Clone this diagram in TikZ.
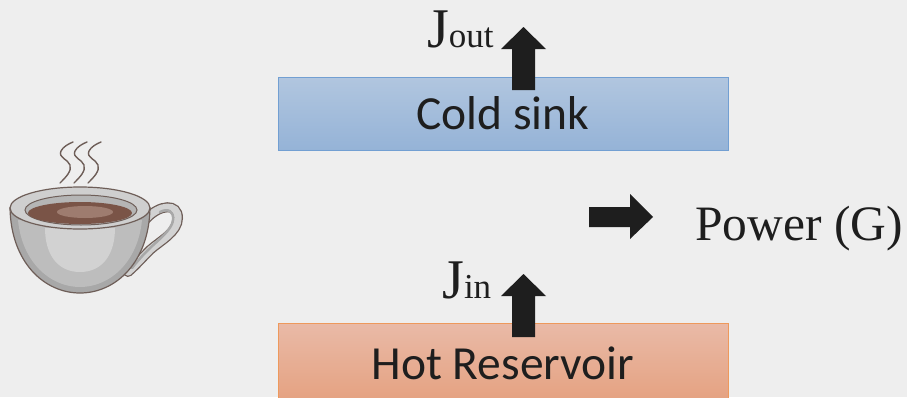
\documentclass[tikz,border=0pt]{standalone}
\usepackage{fontspec}
\setmainfont{Liberation Serif}
\newfontfamily\boxfont{Carlito}
\definecolor{bgcol}{HTML}{EEEEEE}
\definecolor{ink}{HTML}{1E1E1E}
\definecolor{coldtop}{HTML}{B1C6DF}
\definecolor{coldbot}{HTML}{95B3D7}
\definecolor{coldline}{HTML}{729FD2}
\definecolor{hottop}{HTML}{E9BAA7}
\definecolor{hotbot}{HTML}{E5A180}
\definecolor{hotline}{HTML}{EE995C}
\definecolor{cupline}{HTML}{6E5E58}
\definecolor{cupbody}{HTML}{BDBDBD}
\definecolor{cupedge}{HTML}{A8A8A8}
\definecolor{cuplight}{HTML}{D2D2D2}
\definecolor{cuprim}{HTML}{CFCFCF}
\definecolor{cupwall}{HTML}{B5B5B5}
\definecolor{coffee}{HTML}{7A5447}
\definecolor{coffeelight}{HTML}{9E7C6F}
\begin{document}
\begin{tikzpicture}[x=1pt,y=-1pt,
  reservoir/.style={draw, line width=0.8pt, minimum width=450pt, inner sep=0pt,
    font=\boxfont\fontsize{47.5}{47.5}\selectfont, text=ink},
  flux/.style={fill=ink},
  sublabel/.style={anchor=base west, inner sep=0pt, text=ink},
  steam/.style={draw=cupline, line width=1.4pt, line cap=round}]
\fill[bgcol] (0,0) rectangle (907,397);
\useasboundingbox (0,0) rectangle (907,397);

% reservoirs
\node[reservoir, draw=coldline, top color=coldtop, bottom color=coldbot,
  minimum height=73pt] (cold) at (503,113.5) {Cold sink};
\node[reservoir, draw=hotline, top color=hottop, bottom color=hotbot,
  minimum height=80pt] (hot) at (503,363) {Hot Reservoir};

% heat flux arrows
\coordinate (outtip) at (523.5,27);
\coordinate (intip) at (523.5,274);
\fill[flux] (outtip) -- ++(22.5,22) -- ++(-11,0) -- ++(0,41) -- ++(-23,0)
  -- ++(0,-41) -- ++(-11,0) -- cycle;
\fill[flux] (intip) -- ++(22.5,22) -- ++(-11,0) -- ++(0,41) -- ++(-23,0)
  -- ++(0,-41) -- ++(-11,0) -- cycle;
\coordinate (powtip) at (653,217);
\fill[flux] (powtip) -- ++(-23,-23) -- ++(0,13) -- ++(-41,0) -- ++(0,20)
  -- ++(41,0) -- ++(0,12) -- cycle;

% labels
\node[sublabel] (jout) at (427,47)
  {{\fontsize{56}{56}\selectfont J}{\fontsize{35}{35}\selectfont out}};
\node[sublabel] (jin) at (442,298)
  {{\fontsize{56}{56}\selectfont J}{\fontsize{35}{35}\selectfont in}};
\node[sublabel, font=\fontsize{49.5}{49.5}\selectfont] (power) at (695,240) {Power (G)};

% coffee cup: handle
\draw[cupline, line width=10pt, line cap=round]
  (146,219) .. controls (160,204) and (178,203) .. (178,218)
  .. controls (178,232) and (160,241) .. (150,250)
  .. controls (142,258) and (136,265) .. (128,272);
\draw[cuplight, line width=7.4pt, line cap=round]
  (146,219) .. controls (160,204) and (178,203) .. (178,218)
  .. controls (178,232) and (160,241) .. (150,250)
  .. controls (142,258) and (136,265) .. (128,272);
\draw[cupedge, line width=2.5pt, line cap=round]
  (160,212) .. controls (168,208) and (174,211) .. (173,220)
  .. controls (172,230) and (158,240) .. (148,250)
  .. controls (141,257) and (136,263) .. (132,268);

% bowl
\draw[cupline, line width=1.2pt, fill=cupedge]
  (10,208) .. controls (11,262) and (44,293) .. (80,293)
  .. controls (116,293) and (149,262) .. (150,208) -- cycle;
\fill[cupbody]
  (18,220) .. controls (22,262) and (50,287) .. (80,287)
  .. controls (110,287) and (138,262) .. (142,220) -- cycle;
\fill[cuplight]
  (45,228) .. controls (45,255) and (58,272) .. (80,272)
  .. controls (102,272) and (115,255) .. (115,228) -- cycle;

% rim and coffee
\draw[cupline, line width=1.2pt, fill=cuprim] (80,208) ellipse [x radius=70pt, y radius=21pt];
\draw[cupline, line width=1pt, fill=cupwall] (81,210) ellipse [x radius=56pt, y radius=15pt];
\fill[coffee] (80,213) ellipse [x radius=52pt, y radius=11pt];
\fill[coffeelight] (85,212) ellipse [x radius=28pt, y radius=6pt];

% steam
\foreach \dx in {0,14,28} {
  \draw[steam, xshift=\dx pt]
    (60,183) .. controls (66,177) and (72,171) .. (70,165)
    .. controls (68,159) and (58,158) .. (61,151)
    .. controls (63,147) and (68,144) .. (73,142);
}
\end{tikzpicture}
\end{document}
